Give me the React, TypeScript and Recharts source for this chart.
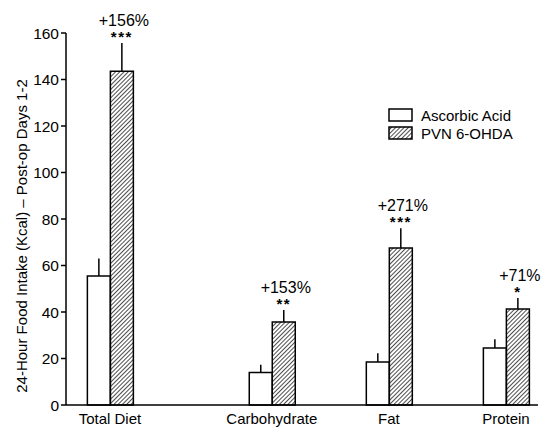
import React from 'react';
import { BarChart, Bar, XAxis, YAxis, ErrorBar, LabelList, Legend, Label } from 'recharts';

const categories = ['Total Diet', 'Carbohydrate', 'Fat', 'Protein'];
const categoryPositions = [9.3, 43.6, 68.4, 93.2];
const ascorbicValues = [55.5, 14, 18.5, 24.5];
const ascorbicErrors = [7.5, 3.3, 3.8, 3.8];
const pvnValues = [143.5, 35.7, 67.5, 41.3];
const pvnErrors = [12.2, 5.2, 8.5, 4.7];
const percentLabels = ['+156%', '+153%', '+271%', '+71%'];
const significance = ['***', '**', '***', '*'];
const yTicks = [0, 20, 40, 60, 80, 100, 120, 140, 160];
const seriesNames = ['Ascorbic Acid', 'PVN 6-OHDA'];
const yLabel = '24-Hour Food Intake (Kcal) \u2013 Post-op Days 1-2';

const data = categories.map((name, i) => ({
  name,
  pos: categoryPositions[i],
  ascorbic: ascorbicValues[i],
  ascorbicErr: [0, ascorbicErrors[i]],
  pvn: pvnValues[i],
  pvnErr: [0, pvnErrors[i]],
}));

const FONT = '"Liberation Sans", Arial, sans-serif';

const renderAnnotation = (props: any) => {
  const vb = props.viewBox || props;
  const { x, y, width, height } = vb;
  const index = props.index;
  const value = pvnValues[index];
  const unit = Math.abs(height) / value;
  const top = y - pvnErrors[index] * unit;
  const cx = x + width / 2;
  return (
    <g>
      <text x={cx + 2} y={top - 17} textAnchor="middle" fontSize={16} fontFamily={FONT} fill="#000">
        {percentLabels[index]}
      </text>
      <text x={cx} y={top - 1} textAnchor="middle" fontSize={15} fontWeight="bold" letterSpacing={1.5} fontFamily={FONT} fill="#000">
        {significance[index]}
      </text>
    </g>
  );
};

const renderLegend = () => (
  <div style={{ fontFamily: FONT, fontSize: 15, color: '#000' }}>
    {seriesNames.map((n, i) => (
      <div key={n} style={{ display: 'flex', alignItems: 'center', height: 18 }}>
        <svg width={26} height={15} style={{ display: 'block' }}>
          <defs>
            <pattern id="hatchLegend" width="3" height="3" patternUnits="userSpaceOnUse" patternTransform="rotate(45)">
              <line x1="0" y1="0" x2="0" y2="3" stroke="#000" strokeWidth="1.4" />
            </pattern>
          </defs>
          <rect x={1} y={1} width={23} height={12} fill={i === 0 ? '#fff' : 'url(#hatchLegend)'} stroke="#000" strokeWidth={1.5} />
        </svg>
        <span style={{ marginLeft: 7 }}>{n}</span>
      </div>
    ))}
  </div>
);

export default function App() {
  return (
    <div style={{ position: 'absolute', left: 0, top: 0, fontFamily: FONT, background: '#fff' }}>
      <BarChart width={542} height={429} data={data} margin={{ top: 33, right: 4, bottom: 0, left: 20 }} barGap={0}>
        <defs>
          <pattern id="hatch" width="3" height="3" patternUnits="userSpaceOnUse" patternTransform="rotate(45)">
            <line x1="0" y1="0" x2="0" y2="3" stroke="#000" strokeWidth="1.4" />
          </pattern>
        </defs>
        <XAxis
          type="number"
          dataKey="pos"
          domain={[0, 100]}
          ticks={categoryPositions}
          interval={0}
          allowDataOverflow
          tickFormatter={(v: number) => categories[categoryPositions.indexOf(v)] ?? ''}
          tickLine={false}
          tickSize={6}
          tickMargin={2}
          height={24}
          axisLine={{ stroke: '#000', strokeWidth: 1.5 }}
          tick={{ fontSize: 15, fill: '#000', fontFamily: FONT }}
        />
        <YAxis
          type="number"
          domain={[0, 160]}
          ticks={yTicks}
          interval={0}
          width={46}
          tickSize={5}
          tickMargin={2}
          axisLine={{ stroke: '#000', strokeWidth: 1.5 }}
          tickLine={{ stroke: '#000', strokeWidth: 1.5 }}
          tick={{ fontSize: 15.5, fill: '#000', fontFamily: FONT }}
        >
          <Label
            content={() => (
              <text x={27} y={236} transform="rotate(-90 27 236)" textAnchor="middle" fontSize={15} fontFamily={FONT} fill="#000">
                {yLabel}
              </text>
            )}
          />
        </YAxis>
        <Legend
          layout="vertical"
          align="center"
          verticalAlign="middle"
          content={renderLegend}
          wrapperStyle={{ left: 388, top: 106, width: 150 }}
        />
        <Bar dataKey="ascorbic" name={seriesNames[0]} fill="#fff" stroke="#000" strokeWidth={1.5} barSize={23} isAnimationActive={false}>
          <ErrorBar dataKey="ascorbicErr" direction="y" width={0} stroke="#000" strokeWidth={1.5} isAnimationActive={false} />
        </Bar>
        <Bar dataKey="pvn" name={seriesNames[1]} fill="url(#hatch)" stroke="#000" strokeWidth={1.5} barSize={23} isAnimationActive={false}>
          <ErrorBar dataKey="pvnErr" direction="y" width={0} stroke="#000" strokeWidth={1.5} isAnimationActive={false} />
          <LabelList dataKey="pvn" content={renderAnnotation} />
        </Bar>
      </BarChart>
    </div>
  );
}
